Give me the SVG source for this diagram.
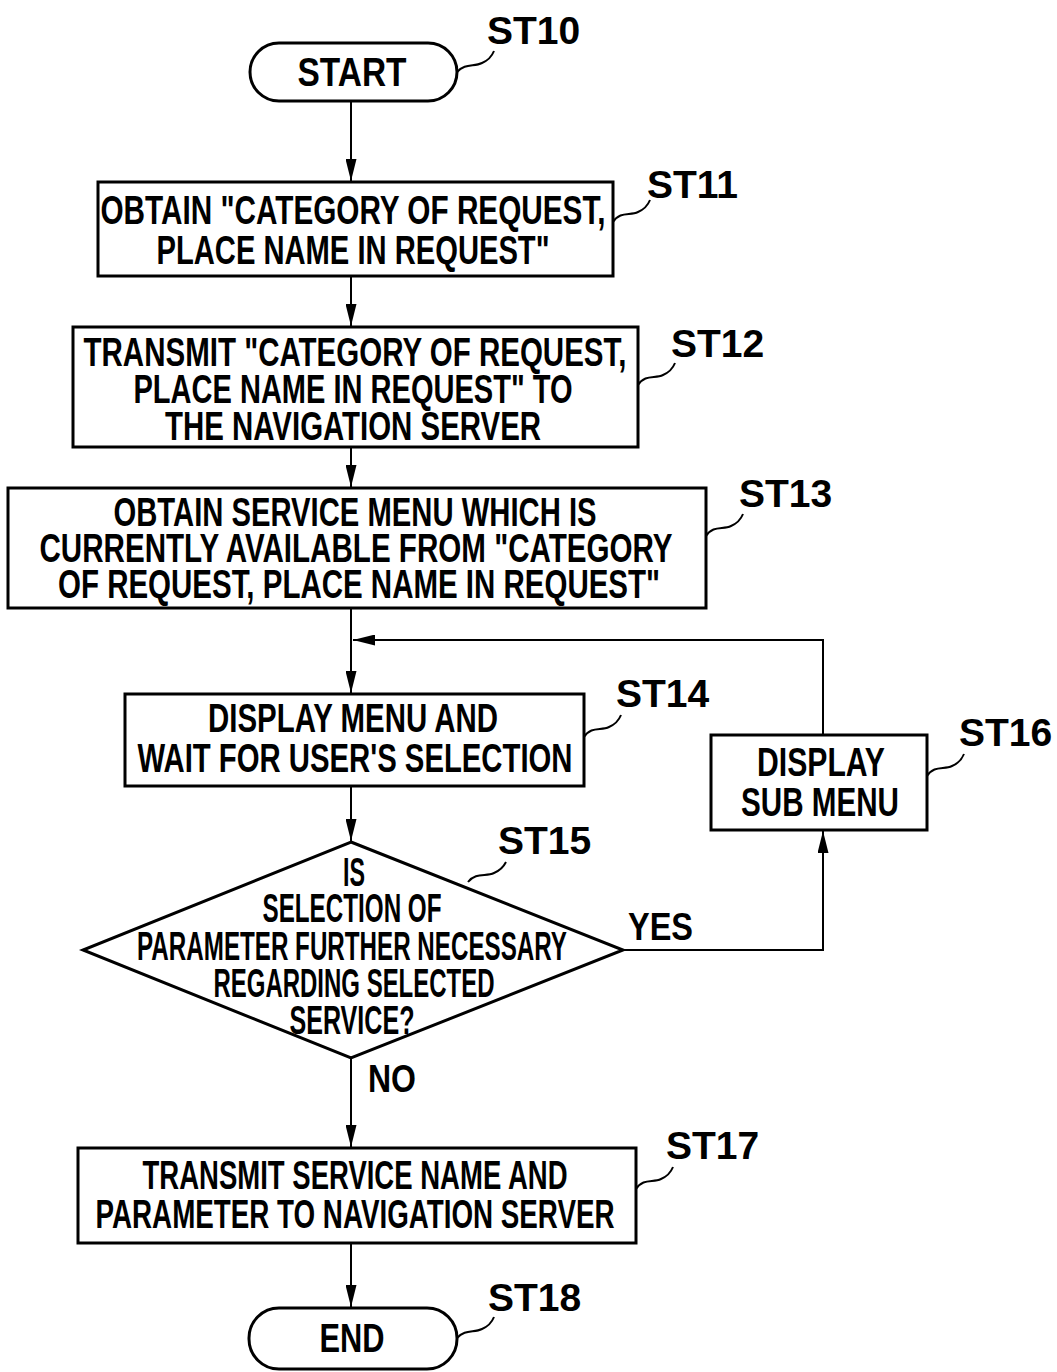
<svg xmlns="http://www.w3.org/2000/svg" width="1057" height="1372" viewBox="0 0 1057 1372">
<style>
.box{fill:#fff;stroke:#000;stroke-width:3}
.ln{fill:none;stroke:#000;stroke-width:2}
.sq{fill:none;stroke:#000;stroke-width:2}
.t{font-family:"Liberation Sans",Arial,sans-serif;font-weight:bold;font-size:40px;fill:#000;text-anchor:middle}
.lb{font-family:"Liberation Sans",Arial,sans-serif;font-weight:bold;font-size:39px;fill:#000}
</style>
<defs>
<marker id="ah" markerWidth="22" markerHeight="11" refX="22" refY="5.5" orient="auto" markerUnits="userSpaceOnUse" viewBox="0 0 22 11">
<path d="M0,0 L22,5.5 L0,11 Z" fill="#000"/>
</marker>
</defs>
<rect width="1057" height="1372" fill="#fff"/>
<g id="connectors">
<line class="ln" x1="351" y1="101" x2="351" y2="181" marker-end="url(#ah)"/>
<line class="ln" x1="351" y1="276" x2="351" y2="326" marker-end="url(#ah)"/>
<line class="ln" x1="351" y1="447" x2="351" y2="487" marker-end="url(#ah)"/>
<line class="ln" x1="351" y1="608" x2="351" y2="693" marker-end="url(#ah)"/>
<polyline class="ln" points="823,735 823,640 353,640" marker-end="url(#ah)"/>
<line class="ln" x1="351" y1="786" x2="351" y2="841" marker-end="url(#ah)"/>
<polyline class="ln" points="623,950 823,950 823,831" marker-end="url(#ah)"/>
<line class="ln" x1="351" y1="1058" x2="351" y2="1147" marker-end="url(#ah)"/>
<line class="ln" x1="351" y1="1243" x2="351" y2="1307" marker-end="url(#ah)"/>
<text class="lb" x="628" y="940" textLength="65" lengthAdjust="spacingAndGlyphs">YES</text>
<text class="lb" x="368" y="1092" textLength="48" lengthAdjust="spacingAndGlyphs">NO</text>
</g>
<g id="ST10">
<rect class="box" x="250" y="43" width="207" height="58" rx="29" ry="29"/>
<text class="t" x="352" y="86" textLength="109" lengthAdjust="spacingAndGlyphs">START</text>
<path class="sq" d="M457,72 C465,63 474,67 482,63 C489,60 492,56 494,51"/>
<text class="lb" x="487" y="44">ST10</text>
</g>
<g id="ST11">
<rect class="box" x="98" y="182" width="515" height="94"/>
<text class="t" x="353" y="224" textLength="505" lengthAdjust="spacingAndGlyphs">OBTAIN "CATEGORY OF REQUEST,</text>
<text class="t" x="353" y="264" textLength="393" lengthAdjust="spacingAndGlyphs">PLACE NAME IN REQUEST"</text>
<path class="sq" d="M613,222 C620,211 630,216 638,212 C645,209 648,205 650,200"/>
<text class="lb" x="647" y="198">ST11</text>
</g>
<g id="ST12">
<rect class="box" x="73" y="327" width="565" height="120"/>
<text class="t" x="355" y="366" textLength="543" lengthAdjust="spacingAndGlyphs">TRANSMIT "CATEGORY OF REQUEST,</text>
<text class="t" x="353" y="403" textLength="439" lengthAdjust="spacingAndGlyphs">PLACE NAME IN REQUEST" TO</text>
<text class="t" x="353" y="440" textLength="376" lengthAdjust="spacingAndGlyphs">THE NAVIGATION SERVER</text>
<path class="sq" d="M638,385 C645,374 655,379 663,375 C670,372 673,368 675,363"/>
<text class="lb" x="671" y="357">ST12</text>
</g>
<g id="ST13">
<rect class="box" x="8" y="488" width="698" height="120"/>
<text class="t" x="355" y="526" textLength="483" lengthAdjust="spacingAndGlyphs">OBTAIN SERVICE MENU WHICH IS</text>
<text class="t" x="356" y="562" textLength="633" lengthAdjust="spacingAndGlyphs">CURRENTLY AVAILABLE FROM "CATEGORY</text>
<text class="t" x="359" y="598" textLength="602" lengthAdjust="spacingAndGlyphs">OF REQUEST, PLACE NAME IN REQUEST"</text>
<path class="sq" d="M706,536 C713,525 723,530 731,526 C738,523 741,519 743,514"/>
<text class="lb" x="739" y="507">ST13</text>
</g>
<g id="ST14">
<rect class="box" x="125" y="694" width="459" height="92"/>
<text class="t" x="353" y="732" textLength="290" lengthAdjust="spacingAndGlyphs">DISPLAY MENU AND</text>
<text class="t" x="355" y="772" textLength="435" lengthAdjust="spacingAndGlyphs">WAIT FOR USER'S SELECTION</text>
<path class="sq" d="M584,737 C591,726 601,731 609,727 C616,724 619,720 621,715"/>
<text class="lb" x="616" y="707">ST14</text>
</g>
<g id="ST15">
<polygon class="box" points="351,842 623,950 351,1058 83,950"/>
<text class="t" x="354" y="886" textLength="22" lengthAdjust="spacingAndGlyphs">IS</text>
<text class="t" x="352" y="922" textLength="179" lengthAdjust="spacingAndGlyphs">SELECTION OF</text>
<text class="t" x="352" y="960" textLength="430" lengthAdjust="spacingAndGlyphs">PARAMETER FURTHER NECESSARY</text>
<text class="t" x="354" y="997" textLength="281" lengthAdjust="spacingAndGlyphs">REGARDING SELECTED</text>
<text class="t" x="352" y="1034" textLength="125" lengthAdjust="spacingAndGlyphs">SERVICE?</text>
<path class="sq" d="M468,882 C476,872 486,877 494,873 C501,870 504,866 506,862"/>
<text class="lb" x="498" y="854">ST15</text>
</g>
<g id="ST16">
<rect class="box" x="711" y="735" width="216" height="95"/>
<text class="t" x="821" y="776" textLength="128" lengthAdjust="spacingAndGlyphs">DISPLAY</text>
<text class="t" x="820" y="816" textLength="158" lengthAdjust="spacingAndGlyphs">SUB MENU</text>
<path class="sq" d="M927,776 C934,765 944,770 952,766 C959,763 962,759 964,754"/>
<text class="lb" x="959" y="746">ST16</text>
</g>
<g id="ST17">
<rect class="box" x="78" y="1148" width="558" height="95"/>
<text class="t" x="355" y="1189" textLength="425" lengthAdjust="spacingAndGlyphs">TRANSMIT SERVICE NAME AND</text>
<text class="t" x="355" y="1228" textLength="519" lengthAdjust="spacingAndGlyphs">PARAMETER TO NAVIGATION SERVER</text>
<path class="sq" d="M636,1189 C643,1178 653,1183 661,1179 C668,1176 671,1172 673,1167"/>
<text class="lb" x="666" y="1159">ST17</text>
</g>
<g id="ST18">
<rect class="box" x="249" y="1308" width="208" height="61" rx="30" ry="30"/>
<text class="t" x="352" y="1352" textLength="65" lengthAdjust="spacingAndGlyphs">END</text>
<path class="sq" d="M457,1338 C465,1329 474,1333 482,1329 C489,1326 492,1322 494,1317"/>
<text class="lb" x="488" y="1311">ST18</text>
</g>
</svg>
